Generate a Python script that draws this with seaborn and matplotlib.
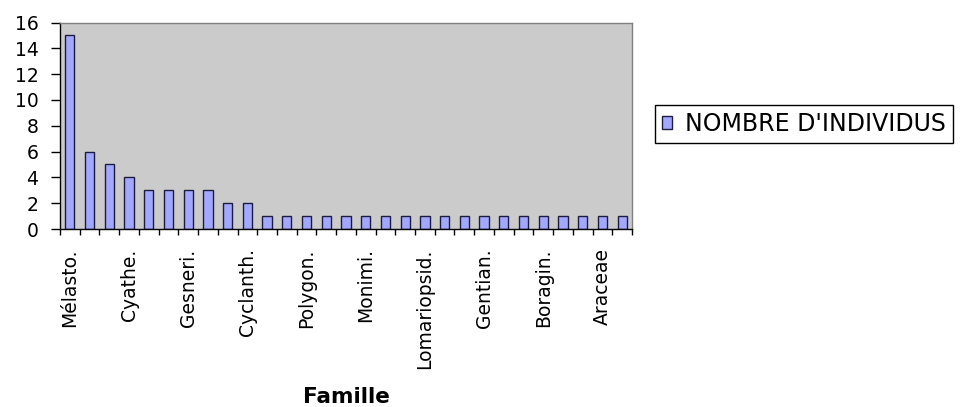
import numpy as np
import pandas as pd
import matplotlib
matplotlib.use("Agg")
import matplotlib.pyplot as plt
import seaborn as sns

# ---- data ----
categories = ["Mélasto.", "Rubi.", "Myrsin.", "Cyathe.", "Piper.", "Arali.",
              "Gesneri.", "Chloranth.", "Urtic.", "Cyclanth.", "Asteraceae",
              "Dennstaedt.", "Polygon.", "Aquifoli.", "Clusi.", "Monimi.",
              "Elaeocarp.", "Euphorbi.", "Lomariopsid.", "Marcgravi.", "Solan.",
              "Gentian.", "Myrt.", "Oleandr.", "Boragin.", "Proteaceae",
              "Sapot.", "Araceae", "Thymelae."]
values = [15, 6, 5, 4, 3, 3, 3, 3, 2, 2,
          1, 1, 1, 1, 1, 1, 1, 1, 1, 1,
          1, 1, 1, 1, 1, 1, 1, 1, 1]
series_name = "NOMBRE D'INDIVIDUS"
x_title = "Famille"
y_ticks = [0, 2, 4, 6, 8, 10, 12, 14, 16]

df = pd.DataFrame({"Famille": categories, "n": values})

sns.set_style("ticks")
plt.rcParams["font.family"] = ["DejaVu Sans"]
plt.rcParams["text.color"] = "black"
plt.rcParams["axes.labelcolor"] = "black"
plt.rcParams["xtick.color"] = "black"
plt.rcParams["ytick.color"] = "black"
plt.rcParams["xtick.labelcolor"] = "black"
plt.rcParams["ytick.labelcolor"] = "black"

W, H = 977, 407
fig = plt.figure(figsize=(W / 100, H / 100), dpi=100)
ax = fig.add_axes([60 / W, 1 - 229 / H, 572 / W, 206.5 / H])
ax.set_facecolor("#CBCBCB")

sns.barplot(data=df, x="Famille", y="n", ax=ax, color="#A3A8FF",
            width=0.47, edgecolor="#1c1c40", linewidth=1.0,
            saturation=1, label=series_name)

ax.set_xlim(-0.5, len(categories) - 0.5)
ax.set_ylim(0, 16)
ax.set_yticks(y_ticks)
ax.set_yticklabels([str(t) for t in y_ticks], fontsize=13.5)

idx = list(range(0, len(categories), 3))
ax.set_xticks(idx)
ax.set_xticklabels([categories[i] for i in idx], rotation=90, fontsize=13.5,
                   va="top", ha="center")
ax.set_xticks(np.arange(-0.5, len(categories), 1), minor=True)
ax.tick_params(axis="x", which="major", length=0, pad=14)
ax.tick_params(axis="x", which="minor", length=4.5, width=1, color="black",
               direction="out")
ax.tick_params(axis="y", length=6.5, width=1, color="black", pad=9,
               direction="out")

ax.set_ylabel("")
ax.set_xlabel(x_title, fontsize=15.5, fontweight="bold", color="black")
ax.xaxis.set_label_coords(0.5, -0.765)

for s in ["left", "bottom"]:
    ax.spines[s].set_color("black")
    ax.spines[s].set_linewidth(1)
for s in ["top", "right"]:
    ax.spines[s].set_visible(True)
    ax.spines[s].set_color("#808080")
    ax.spines[s].set_linewidth(1)

leg = ax.legend(loc="center left", bbox_to_anchor=(655 / W, 1 - 124 / H),
                bbox_transform=fig.transFigure, fontsize=17, frameon=True,
                fancybox=False, edgecolor="black", framealpha=1,
                handlelength=0.42, handleheight=0.42, handletextpad=0.55,
                borderpad=0.3, borderaxespad=0)
leg.get_frame().set_linewidth(1)
for t in leg.get_texts():
    t.set_color("black")

fig.savefig("out.png", dpi=100)
